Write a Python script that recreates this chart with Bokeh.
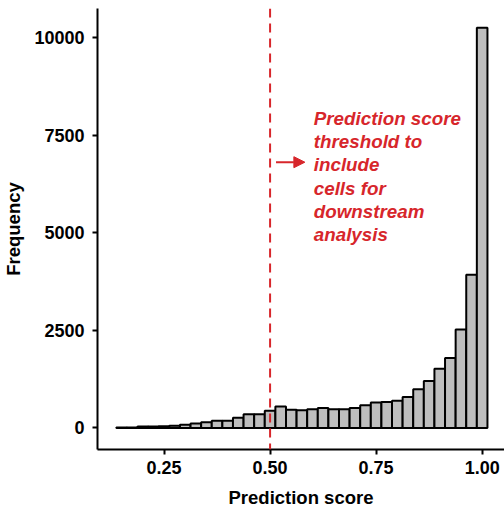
from bokeh.plotting import figure
from bokeh.models import Range1d, FixedTicker, NumeralTickFormatter, Span, Arrow, NormalHead, ColumnDataSource
from bokeh.core.properties import value
from bokeh.embed import file_html
from bokeh.resources import INLINE

bin_centers = [0.150, 0.175, 0.200, 0.225, 0.250, 0.275, 0.300, 0.325, 0.350, 0.375,
               0.400, 0.425, 0.450, 0.475, 0.500, 0.525, 0.550, 0.575, 0.600, 0.625,
               0.650, 0.675, 0.700, 0.725, 0.750, 0.775, 0.800, 0.825, 0.850, 0.875,
               0.900, 0.925, 0.950, 0.975, 1.000]
frequency = [10, 15, 35, 40, 45, 60, 80, 115, 150, 185,
             185, 260, 350, 355, 440, 550, 465, 455, 480, 515,
             480, 480, 510, 585, 650, 665, 700, 795, 990, 1205,
             1515, 1790, 2525, 3925, 10250]
bin_width = 0.025
x_ticks = [0.25, 0.50, 0.75, 1.00]
y_ticks = [0, 2500, 5000, 7500, 10000]
threshold = 0.5
annotation = "Prediction score\nthreshold to\ninclude\ncells for\ndownstream\nanalysis"

RED = "#D7262B"
FONT = "Liberation Sans"

src = ColumnDataSource(dict(
    left=[c - bin_width / 2 for c in bin_centers],
    right=[c + bin_width / 2 for c in bin_centers],
    top=frequency,
    bottom=[0] * len(frequency),
))

p = figure(width=504, height=512, output_backend="svg", toolbar_location=None,
           x_range=Range1d(0.0931, 1.0527), y_range=Range1d(-551, 10745),
           min_border_left=96, min_border_right=0, min_border_top=8, min_border_bottom=63)
p.outline_line_color = None
p.xgrid.visible = False
p.ygrid.visible = False
p.background_fill_color = "white"
p.border_fill_color = "white"

p.quad(left="left", right="right", top="top", bottom="bottom", source=src,
       fill_color="#BEBEBE", line_color="black", line_width=2)

p.add_layout(Span(location=threshold, dimension="height", line_color=RED,
                  line_width=2, line_dash="9 6"))

p.add_layout(Arrow(x_start=0.514, y_start=6808, x_end=0.582, y_end=6808,
                   line_color=RED, line_width=2,
                   end=NormalHead(size=11, fill_color=RED, line_color=RED)))

p.text(x=[0.6030], y=[8200], text=[annotation], text_color=RED,
       text_font=value(FONT), text_font_style="bold italic", text_font_size="18.8px",
       text_baseline="top", text_align="left", text_line_height=1.11)

for ax in (p.xaxis[0], p.yaxis[0]):
    ax.axis_line_color = "black"
    ax.axis_line_width = 2
    ax.major_tick_line_color = "black"
    ax.major_tick_line_width = 2
    ax.major_tick_out = 5
    ax.major_tick_in = 0
    ax.minor_tick_line_color = None
    ax.major_label_text_font = FONT
    ax.major_label_text_font_style = "bold"
    ax.major_label_text_font_size = "18px"
    ax.major_label_text_color = "black"
    ax.axis_label_text_font = FONT
    ax.axis_label_text_font_style = "bold"
    ax.axis_label_text_font_size = "18.5px"
    ax.axis_label_text_color = "black"

p.xaxis[0].ticker = FixedTicker(ticks=x_ticks)
p.xaxis[0].formatter = NumeralTickFormatter(format="0.00")
p.xaxis[0].axis_label = "Prediction score"
p.xaxis[0].major_label_standoff = 6
p.xaxis[0].axis_label_standoff = 10

p.yaxis[0].ticker = FixedTicker(ticks=y_ticks)
p.yaxis[0].axis_label = "Frequency"
p.yaxis[0].major_label_standoff = 8
p.yaxis[0].axis_label_standoff = 7

open("out.html", "w").write(file_html(p, INLINE))
